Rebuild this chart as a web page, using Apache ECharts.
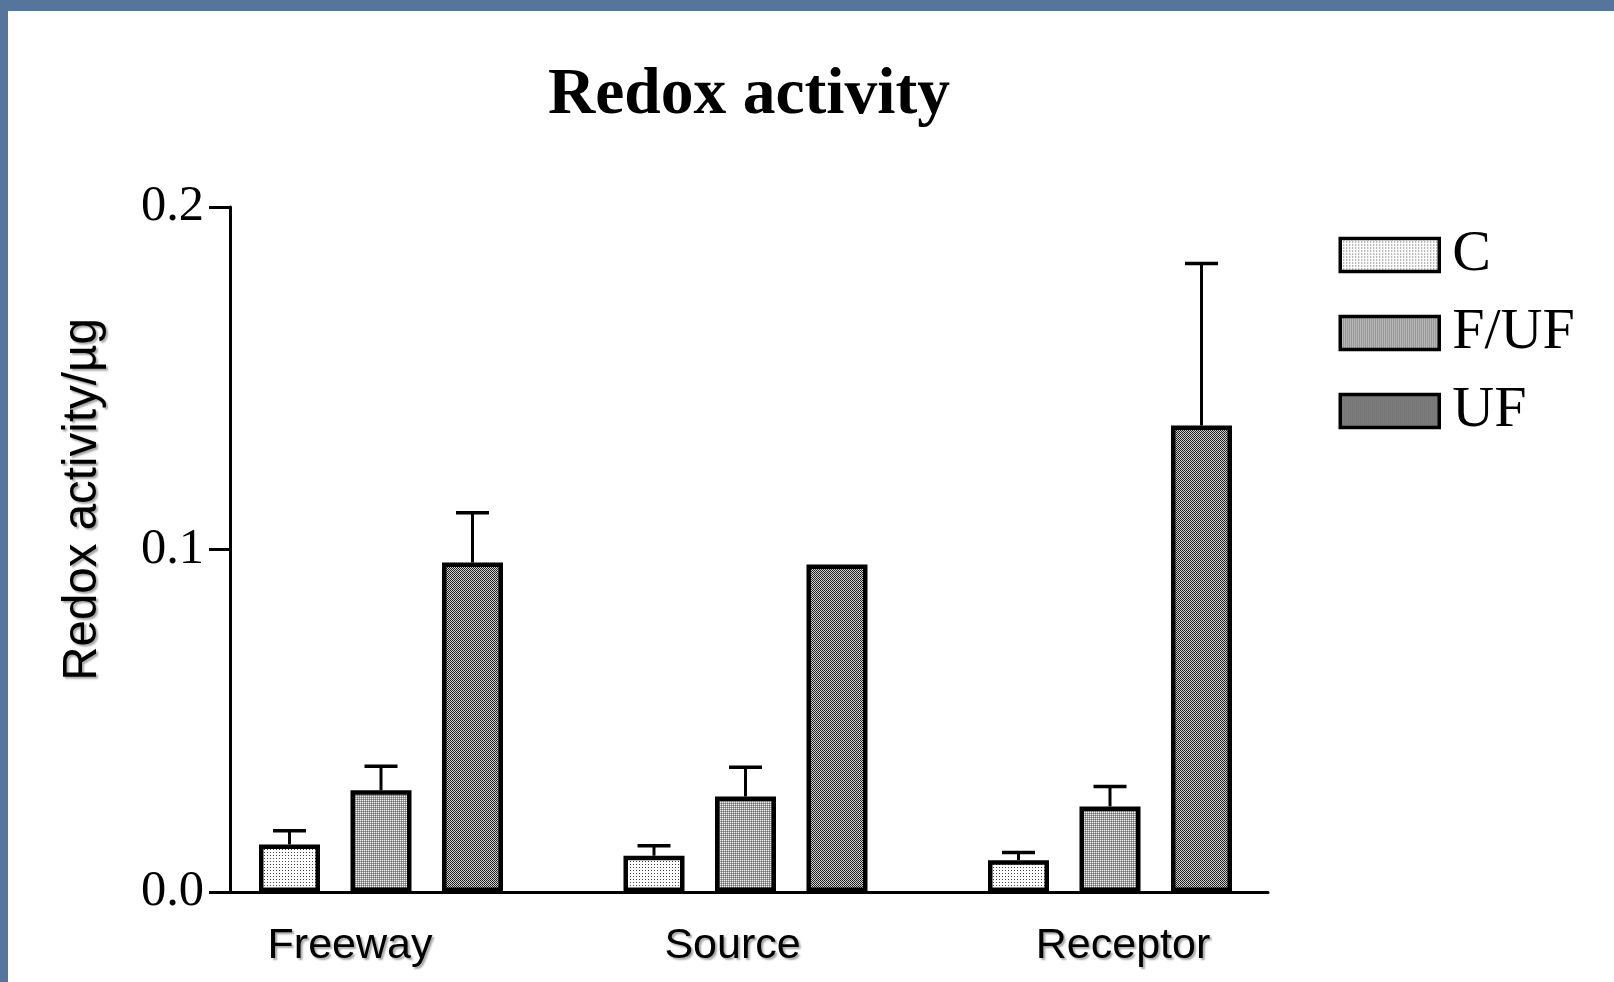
<!DOCTYPE html>
<html>
<head>
<meta charset="utf-8">
<script src="https://cdn.jsdelivr.net/npm/echarts@6/dist/echarts.min.js"></script>
<style>
html,body{margin:0;padding:0;background:#54769c;}
#chart{width:1614px;height:982px;}
</style>
</head>
<body>
<div id="chart"></div>
<script>
// ---- data ----
const categories = ['Freeway', 'Source', 'Receptor'];
const seriesNames = ['C', 'F/UF', 'UF'];
const meanC   = [0.0139, 0.0106, 0.0093];
const meanFUF = [0.0297, 0.0279, 0.0250];
const meanUF  = [0.0962, 0.0956, 0.1362];
const errC    = [0.0040, 0.0029, 0.0022];
const errFUF  = [0.0070, 0.0085, 0.0058];
const errUF   = [0.0145, 0.0000, 0.0473];
const yTicks  = [0.0, 0.1, 0.2];

// ---- patterns ----
function makePattern(size, pixels) {
  const c = document.createElement('canvas');
  c.width = size; c.height = size;
  const ctx = c.getContext('2d');
  for (let y = 0; y < size; y++) {
    for (let x = 0; x < size; x++) {
      ctx.fillStyle = pixels[y][x];
      ctx.fillRect(x, y, 1, 1);
    }
  }
  return { image: c, repeat: 'repeat' };
}
const patC = makePattern(3, [['#444', '#fff', '#fff'], ['#fff', '#fff', '#fff'], ['#fff', '#fff', '#fff']]);
const patFUF = makePattern(2, [['#f0f0f0', '#a0a0a0'], ['#a0a0a0', '#707070']]);
const patUF = makePattern(2, [['#1a1a1a', '#d0d0d0'], ['#d0d0d0', '#2a2a2a']]);
const patterns = [patC, patFUF, patUF];
const means = [meanC, meanFUF, meanUF];
const errs = [errC, errFUF, errUF];

const BAR_W = 61;
const BAR_STEP = 91.5;
const serif = '"Liberation Serif", "Times New Roman", serif';
const sans = '"Liberation Sans", Arial, sans-serif';
const shadow = { textShadowColor: 'rgba(0,0,0,0.35)', textShadowOffsetX: 2, textShadowOffsetY: 2, textShadowBlur: 2 };

const chart = echarts.init(document.getElementById('chart'), null, { renderer: 'canvas' });

const barSeries = seriesNames.map((name, i) => ({
  name: name,
  type: 'bar',
  xAxisIndex: 0,
  yAxisIndex: 0,
  barWidth: BAR_W,
  barGap: ((BAR_STEP - BAR_W) / BAR_W * 100).toFixed(1) + '%',
  data: means[i],
  itemStyle: { color: patterns[i], borderColor: '#000', borderWidth: 4.5 },
  z: 3
}));

const errSeries = seriesNames.map((name, i) => ({
  type: 'custom',
  xAxisIndex: 0,
  yAxisIndex: 0,
  silent: true,
  z: 2,
  data: categories.map((c, k) => [k, means[i][k], means[i][k] + errs[i][k], errs[i][k]]),
  renderItem: function (params, api) {
    if (api.value(3) <= 0) return null;
    const off = (i - 1) * BAR_STEP;
    const p0 = api.coord([api.value(0), api.value(1)]);
    const p1 = api.coord([api.value(0), api.value(2)]);
    const x = p0[0] + off;
    const st = { stroke: '#000', lineWidth: 3 };
    return {
      type: 'group',
      children: [
        { type: 'line', shape: { x1: x, y1: p0[1], x2: x, y2: p1[1] }, style: st },
        { type: 'line', shape: { x1: x - 16.5, y1: p1[1], x2: x + 16.5, y2: p1[1] }, style: { stroke: '#000', lineWidth: 3.5 } }
      ]
    };
  }
}));

const option = {
  backgroundColor: '#54769c',
  animation: false,
  graphic: [{
    type: 'rect', z: -10, silent: true,
    shape: { x: 8, y: 11, width: 1606, height: 971 },
    style: { fill: '#fff' }
  }],
  title: {
    text: 'Redox activity',
    left: 548,
    top: 63,
    padding: 0,
    textStyle: { fontFamily: serif, fontWeight: 'bold', fontSize: 65.5, color: '#000' }
  },
  legend: {
    orient: 'vertical',
    left: 1338.5,
    top: 226,
    padding: 0,
    itemWidth: 99,
    itemHeight: 33,
    itemGap: 20,
    icon: 'rect',
    data: seriesNames,
    itemStyle: { borderColor: '#000', borderWidth: 3.5 },
    textStyle: { fontFamily: serif, fontSize: 58, color: '#000', padding: [0, 0, 0, 8] }
  },
  grid: [
    { left: 198.75, width: 1093.5, top: 207, bottom: 90 },
    { left: 230, width: 1038, top: 207, bottom: 90 }
  ],
  xAxis: [
    {
      type: 'category', gridIndex: 0, data: categories,
      axisLine: { show: false }, axisTick: { show: false },
      axisLabel: {
        margin: 33,
        fontFamily: sans, fontSize: 43, color: '#000', ...shadow,
        formatter: function (v, idx) { return '{l' + idx + '|' + v + '}'; },
        rich: {
          l0: { fontFamily: sans, fontSize: 43, color: '#000', ...shadow, padding: [0, 62, 0, 0] },
          l1: { fontFamily: sans, fontSize: 43, color: '#000', ...shadow, padding: [0, 26, 0, 0] },
          l2: { fontFamily: sans, fontSize: 43, color: '#000', ...shadow, padding: [0, 0, 0, 26] }
        }
      }
    },
    {
      type: 'category', gridIndex: 1, data: categories,
      axisLine: { show: true, lineStyle: { color: '#000', width: 3 } },
      axisTick: { show: false }, axisLabel: { show: false }
    }
  ],
  yAxis: [
    {
      type: 'value', gridIndex: 0, min: 0, max: 0.2, interval: 0.1,
      axisLine: { show: false }, axisTick: { show: false }, axisLabel: { show: false }, splitLine: { show: false }
    },
    {
      type: 'value', gridIndex: 1, min: yTicks[0], max: yTicks[yTicks.length - 1], interval: 0.1,
      name: 'Redox activity/µg',
      nameLocation: 'middle',
      nameRotate: 90,
      nameGap: 123,
      nameTextStyle: { fontFamily: sans, fontSize: 47.5, color: '#000', ...shadow, padding: [0, 0, 0, 100] },
      axisLine: { show: true, lineStyle: { color: '#000', width: 3 } },
      axisTick: { show: true, length: 21, lineStyle: { color: '#000', width: 3 } },
      axisLabel: {
        margin: 26, fontFamily: serif, fontSize: 50.5, color: '#000',
        formatter: function (v) { return v.toFixed(1); }
      },
      splitLine: { show: false }
    }
  ],
  series: [...barSeries, ...errSeries]
};
chart.setOption(option);
</script>
</body>
</html>
